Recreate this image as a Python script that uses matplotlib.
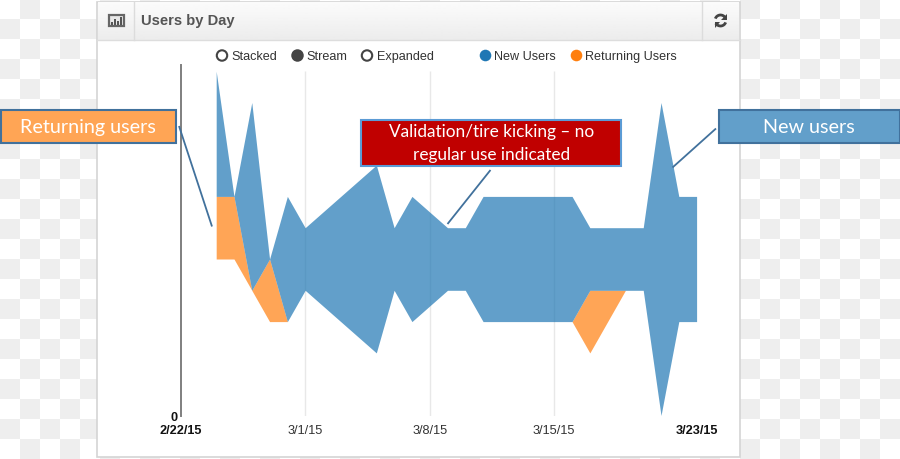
import numpy as np
import matplotlib
matplotlib.use("Agg")
import matplotlib.pyplot as plt
from matplotlib.patches import Rectangle, Circle, Arc, Polygon

# Day offset from 2/22/15 for each sample (2/24 .. 3/23)
days = list(range(2, 30))
new_users = [4, 0, 6, 0, 4, 2, 3, 4, 5, 6, 2, 4, 3, 2, 2, 4, 4, 4, 4, 4, 4, 2, 2, 2, 2, 10, 4, 4]
returning_users = [2, 2, 0, 2, 0, 0, 0, 0, 0, 0, 0, 0, 0, 0, 0, 0, 0, 0, 0, 0, 0, 2, 1, 0, 0, 0, 0, 0]
stream_offset = [5, 5, 4, 3, 3, 4, 3.5, 3, 2.5, 2, 4, 3, 3.5, 4, 4, 3, 3, 3, 3, 3, 3, 2, 3, 4, 4, 0, 3, 3]
tick_days = [0, 7, 14, 21, 29]
tick_labels = ["2/22/15", "3/1/15", "3/8/15", "3/15/15", "3/23/15"]

SANS = "Liberation Sans"
CALLOUT = "Lato"
BLUE = "#1f77b4"
ORANGE = "#ff7f0e"
EDGE = "#41719c"
DY = 1.5

fig = plt.figure(figsize=(9, 4.6), dpi=100, facecolor="white")

# ---- background layer, in image pixels ----
bg = fig.add_axes([0, 0, 1, 1], zorder=0)
bg.axis("off")
jj, ii = np.indices((23, 45))
checker = ((ii + jj) % 2).astype(float)
bg.imshow(checker, extent=(0, 900, 460 - DY, -DY), cmap="gray_r", vmin=0, vmax=1 / 0.067,
          interpolation="nearest", aspect="auto", zorder=0)
bg.add_patch(Rectangle((97, 1), 642.5, 455, fc="white", ec="#d4d4d4", lw=1.2, zorder=1))
grad = np.linspace(0.985, 0.925, 40).reshape(-1, 1)
bg.imshow(grad, extent=(98, 739, 39, 1), cmap="gray", vmin=0, vmax=1,
          aspect="auto", interpolation="bilinear", zorder=2)
bg.plot([97, 740], [39.5, 39.5], color="#dddddd", lw=1, zorder=3)
bg.plot([134, 134], [1, 39], color="#dcdcdc", lw=1, zorder=3)
bg.plot([702, 702], [1, 39], color="#dcdcdc", lw=1, zorder=3)
bg.set_xlim(0, 900); bg.set_ylim(460 - DY, -DY)

# ---- main chart ----
W, H = 900, 460
L, R, T, B = 180.6, 696.6, 64 + DY, 415 + DY
ax = fig.add_axes([L / W, 1 - B / H, (R - L) / W, (B - T) / H], zorder=1)
ax.patch.set_alpha(0)
ax.set_xlim(0, 29)
ax.set_ylim(0, (B - T) / 31.3)
off = np.array(stream_offset, float)
ret = np.array(returning_users, float)
new = np.array(new_users, float)
ax.fill_between(days, off, off + ret, color=ORANGE, alpha=0.7, lw=0, zorder=3)
ax.fill_between(days, off + ret, off + ret + new, color=BLUE, alpha=0.7, lw=0, zorder=3)
ax.vlines(tick_days[1:4], 0, 11, color="#e8e8e8", lw=1, zorder=1)
for s in ("top", "right", "bottom"):
    ax.spines[s].set_visible(False)
ax.spines["left"].set_color("#7f7f7f")
ax.spines["left"].set_linewidth(1.4)
ax.set_yticks([0])
ax.set_yticklabels(["0"], family=SANS, fontsize=9.2, fontweight="bold", color="#111111")
ax.tick_params(axis="y", length=0, pad=2)
ax.set_xticks(tick_days)
ax.set_xticklabels(tick_labels, family=SANS, fontsize=9.2, color="#333333")
ax.tick_params(axis="x", length=0, pad=6)
for i in (0, 4):
    ax.get_xticklabels()[i].set_fontweight("bold")
    ax.get_xticklabels()[i].set_color("#111111")

# ---- top layer: header, legend, callouts ----
top = fig.add_axes([0, 0, 1, 1], zorder=2)
top.set_xlim(0, 900); top.set_ylim(460 - DY, -DY); top.axis("off"); top.patch.set_alpha(0)

top.text(141, 24, "Users by Day", family=SANS, fontsize=10.6, fontweight="bold",
         color="#555555", va="baseline", ha="left")

# chart icon
top.add_patch(Rectangle((108.5, 14), 15, 11.5, fc="#e8e8e8", ec="#666666", lw=1.6))
for bx, bh in zip([111, 114, 117, 120], [3, 6, 4, 8]):
    top.add_patch(Rectangle((bx, 24 - bh), 1.8, bh, fc="#555555", ec="none"))

# refresh icon
top.add_patch(Arc((720.5, 20), 11, 11, theta1=200, theta2=330, color="#444444", lw=2.0))
top.add_patch(Arc((720.5, 20), 11, 11, theta1=20, theta2=150, color="#444444", lw=2.0))
top.add_patch(Polygon([[726.5, 13], [726.5, 19], [721, 19]], fc="#444444", ec="none"))
top.add_patch(Polygon([[714.5, 27], [714.5, 21], [720, 21]], fc="#444444", ec="none"))

# style selector and legend
for cx, tx, label, filled in [(222, 231, "Stacked", False), (297.5, 306, "Stream", True), (367, 376.5, "Expanded", False)]:
    top.add_patch(Circle((cx, 55), 5.2, fc="#444444" if filled else "white", ec="#444444", lw=1.5))
    top.text(tx, 58.5, label, family=SANS, fontsize=9.1, color="#333333", va="baseline")
for cx, tx, label, col in [(485.5, 494, "New Users", BLUE), (576.5, 585, "Returning Users", ORANGE)]:
    top.add_patch(Circle((cx, 55), 5.8, fc=col, ec="none"))
    top.text(tx, 58.5, label, family=SANS, fontsize=9.1, color="#333333", va="baseline")

# callouts
top.add_patch(Rectangle((1, 109.5), 175, 32.5, fc="#ffa555", ec=EDGE, lw=1.5))
top.text(88, 132, "Returning users", family=CALLOUT, fontsize=14.2, color="white",
         ha="center", va="baseline")
top.add_patch(Rectangle((719, 109.5), 180.5, 32.5, fc="#629fca", ec=EDGE, lw=1.5))
top.text(809, 132, "New users", family=CALLOUT, fontsize=14.2, color="white",
         ha="center", va="baseline")
top.add_patch(Rectangle((361, 119.5), 260, 45.5, fc="#c00000", ec="#5b9bd5", lw=1.5))
top.text(491.5, 136, "Validation/tire kicking – no", family=CALLOUT, fontsize=12.4, color="white",
         ha="center", va="baseline")
top.text(491.5, 159, "regular use indicated", family=CALLOUT, fontsize=12.4, color="white",
         ha="center", va="baseline")

# leader lines
for xs, ys in [((179, 212), (125.5, 226)), ((447.5, 490.5), (223.5, 169.5)), ((672.5, 716), (167, 128))]:
    top.plot(xs, ys, color=EDGE, lw=1.3, solid_capstyle="butt")

fig.savefig("out.png", dpi=100)
